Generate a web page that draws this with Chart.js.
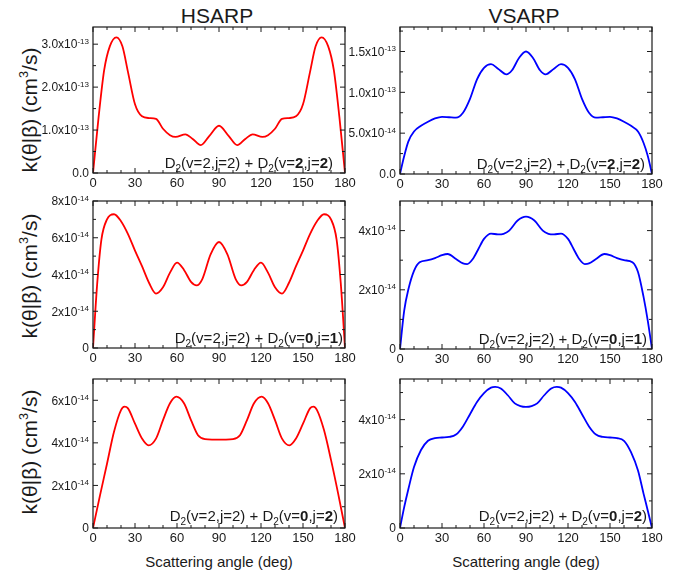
<!DOCTYPE html>
<html>
<head>
<meta charset="utf-8">
<script src="https://cdn.jsdelivr.net/npm/chart.js@4.4.0/dist/chart.umd.min.js"></script>
<style>
  html, body { margin: 0; padding: 0; background: #fff; }
  #fig { position: relative; width: 678px; height: 574px; overflow: hidden;
         font-family: "Liberation Sans", Arial, sans-serif; color: #1a1a1a; }
  #fig canvas { position: absolute; }
  .txt { position: absolute; white-space: nowrap; transform: translate(-50%, -50%); line-height: 1; }
  .rot { transform: translate(-50%, -50%) rotate(-90deg); }
  .txt sup { font-size: 0.6em; vertical-align: 0.7em; line-height: 0; }
</style>
</head>
<body>
<div id="fig">
  <div class="txt" style="left:217px;top:15px;font-size:21px;">HSARP</div>
  <div class="txt" style="left:524px;top:15px;font-size:21px;">VSARP</div>
  <div class="txt rot" style="left:29px;top:110px;font-size:21px;">k(θ|β) (cm<sup>3</sup>/s)</div>
  <div class="txt rot" style="left:29px;top:276px;font-size:21px;">k(θ|β) (cm<sup>3</sup>/s)</div>
  <div class="txt rot" style="left:29px;top:452px;font-size:21px;">k(θ|β) (cm<sup>3</sup>/s)</div>
  <div class="txt" style="left:219px;top:561px;font-size:15px;">Scattering angle (deg)</div>
  <div class="txt" style="left:526px;top:561px;font-size:15px;">Scattering angle (deg)</div>
</div>
<script>
(function () {
  "use strict";

  // -------------------------
  // Data
  // -------------------------
  const xMajor = [0, 30, 60, 90, 120, 150, 180];
  const xMinor = [10, 20, 40, 50, 70, 80, 100, 110, 130, 140, 160, 170];

  // HSARP, D2(v=2,j=2)+D2(v=2,j=2)   (units 1e-13)
  const hsarp22Angles = [0, 4, 8, 12, 16.7, 21, 25, 30, 35, 40, 45, 50, 55, 59, 66, 71, 77, 83, 90,
    97, 103, 109, 114, 121, 125, 130, 135, 140, 145, 150, 155, 159, 163.3, 168, 172, 176, 180];
  const hsarp22Values = [0, 1.3, 2.4, 2.95, 3.16, 2.95, 2.35, 1.6, 1.32, 1.28, 1.26, 1.03, 0.88, 0.84, 0.90, 0.80, 0.65, 0.86, 1.10,
    0.86, 0.65, 0.80, 0.90, 0.84, 0.88, 1.03, 1.26, 1.28, 1.32, 1.6, 2.35, 2.95, 3.16, 2.95, 2.4, 1.3, 0];

  // VSARP, D2(v=2,j=2)+D2(v=2,j=2)   (units 1e-13)
  const vsarp22Angles = [0, 3, 6, 10, 15, 20, 25, 30, 35, 40, 45, 50, 55, 60, 65, 70, 76, 80, 85, 90,
    95, 100, 104, 110, 115, 120, 125, 130, 135, 140, 145, 150, 155, 160, 165, 170, 174, 177, 180];
  const vsarp22Values = [0, 0.22, 0.40, 0.52, 0.59, 0.64, 0.68, 0.70, 0.695, 0.69, 0.75, 0.92, 1.16, 1.30, 1.345, 1.29, 1.22, 1.27, 1.42, 1.50,
    1.42, 1.27, 1.22, 1.29, 1.345, 1.30, 1.16, 0.92, 0.75, 0.69, 0.695, 0.70, 0.68, 0.64, 0.59, 0.52, 0.38, 0.22, 0];

  // HSARP, D2(v=2,j=2)+D2(v=0,j=1)   (units 1e-14)
  const hsarp01Angles = [0, 3, 6, 10, 15, 20, 25, 30, 35, 40, 45, 50, 55, 60, 65, 70, 74, 78, 84, 90,
    96, 102, 106, 110, 115, 120, 125, 130, 135, 140, 145, 150, 155, 160, 165, 170, 174, 177, 180];
  const hsarp01Values = [0, 3.5, 5.9, 7.0, 7.28, 6.9, 6.2, 5.3, 4.45, 3.55, 2.96, 3.3, 4.1, 4.65, 4.25, 3.6, 3.41, 3.74, 5.1, 5.77,
    5.1, 3.74, 3.41, 3.6, 4.25, 4.65, 4.1, 3.3, 2.96, 3.55, 4.45, 5.3, 6.2, 6.9, 7.28, 7.0, 5.9, 3.5, 0];

  // VSARP, D2(v=2,j=2)+D2(v=0,j=1)   (units 1e-14)
  const vsarp01Angles = [0, 3, 6, 10, 14, 20, 25, 30, 34, 40, 45, 48, 52, 56, 60, 65, 70, 74, 78, 84, 90,
    96, 102, 106, 110, 115, 120, 124, 128, 132, 135, 140, 146, 150, 155, 160, 166, 170, 174, 177, 180];
  const vsarp01Values = [0, 1.3, 2.02, 2.64, 2.93, 3.0, 3.07, 3.17, 3.21, 3.04, 2.89, 2.87, 3.04, 3.38, 3.72, 3.9, 3.87, 3.89, 4.0, 4.34, 4.47,
    4.34, 4.0, 3.89, 3.87, 3.9, 3.72, 3.38, 3.04, 2.87, 2.89, 3.04, 3.21, 3.17, 3.07, 3.0, 2.93, 2.6, 1.75, 0.95, 0];

  // HSARP, D2(v=2,j=2)+D2(v=0,j=2)   (units 1e-14)
  const hsarp02Angles = [0, 5, 10, 15, 20, 22.5, 25, 30, 35, 39.7, 45, 50, 55, 59.5, 65, 70, 75, 80, 85, 90,
    95, 100, 105, 110, 115, 120.5, 125, 130, 135, 140.3, 145, 150, 155, 157.5, 160, 165, 170, 175, 180];
  const hsarp02Values = [0, 1.53, 3.02, 4.52, 5.54, 5.70, 5.62, 4.9, 4.2, 3.88, 4.2, 5.07, 5.86, 6.17, 5.86, 5.07, 4.36, 4.17, 4.15, 4.15,
    4.15, 4.17, 4.36, 5.07, 5.86, 6.17, 5.86, 5.07, 4.2, 3.88, 4.2, 4.9, 5.62, 5.70, 5.54, 4.6, 3.2, 1.65, 0];

  // VSARP, D2(v=2,j=2)+D2(v=0,j=2)   (units 1e-14)
  const vsarp02Angles = [0, 3, 6, 10, 15, 20, 25, 30, 35, 40, 45, 50, 55, 60, 65, 68, 72, 77, 82, 86, 90,
    94, 98, 103, 108, 112, 115, 120, 125, 130, 135, 140, 145, 150, 155, 160, 165, 170, 174, 177, 180];
  const vsarp02Values = [0, 0.77, 1.44, 2.25, 2.88, 3.22, 3.32, 3.34, 3.36, 3.45, 3.75, 4.2, 4.65, 4.98, 5.18, 5.21, 5.15, 4.9, 4.6, 4.5, 4.47,
    4.5, 4.6, 4.9, 5.15, 5.21, 5.18, 4.98, 4.65, 4.2, 3.75, 3.45, 3.36, 3.34, 3.32, 3.22, 2.8, 2.12, 1.26, 0.64, 0];

  // y tick values / labels per panel ("^" marks the exponent)
  const yTicks22H = [0, 1, 2, 3];
  const yLabels22H = ["0.0", "1.0x10^-13", "2.0x10^-13", "3.0x10^-13"];
  const yTicks22V = [0, 0.5, 1.0, 1.5];
  const yLabels22V = ["0.0", "5.0x10^-14", "1.0x10^-13", "1.5x10^-13"];
  const yTicks01H = [0, 2, 4, 6, 8];
  const yLabels01H = ["0", "2x10^-14", "4x10^-14", "6x10^-14", "8x10^-14"];
  const yTicks01V = [0, 2, 4];
  const yLabels01V = ["0", "2x10^-14", "4x10^-14"];
  const yTicks02H = [0, 2, 4, 6];
  const yLabels02H = ["0", "2x10^-14", "4x10^-14", "6x10^-14"];
  const yTicks02V = [0, 2, 4];
  const yLabels02V = ["0", "2x10^-14", "4x10^-14"];

  // final-state (v, j) of the second D2 in each row
  const finalStates = [[2, 2], [0, 1], [0, 2]];

  // -------------------------
  // Panel layout
  // -------------------------
  const panels = [
    { left: 93, right: 345, top: 27, bottom: 173, ymax: 3.4, angles: hsarp22Angles, values: hsarp22Values,
      color: "#ff0000", ticks: yTicks22H, labels: yLabels22H, minor: [0.5, 1.5, 2.5], fs: finalStates[0], noteInset: 12, noteLift: 5 },
    { left: 400, right: 652, top: 27, bottom: 174, ymax: 1.8, angles: vsarp22Angles, values: vsarp22Values,
      color: "#0000ff", ticks: yTicks22V, labels: yLabels22V, minor: [0.25, 0.75, 1.25, 1.75], fs: finalStates[0], noteInset: 7, noteLift: 5 },
    { left: 93, right: 345, top: 201, bottom: 348, ymax: 8, angles: hsarp01Angles, values: hsarp01Values,
      color: "#ff0000", ticks: yTicks01H, labels: yLabels01H, minor: [1, 3, 5, 7], fs: finalStates[1], noteInset: 2, noteLift: 5 },
    { left: 400, right: 652, top: 201, bottom: 349, ymax: 5, angles: vsarp01Angles, values: vsarp01Values,
      color: "#0000ff", ticks: yTicks01V, labels: yLabels01V, minor: [1, 3], fs: finalStates[1], noteInset: 5, noteLift: 5 },
    { left: 93, right: 345, top: 379, bottom: 528, ymax: 7, angles: hsarp02Angles, values: hsarp02Values,
      color: "#ff0000", ticks: yTicks02H, labels: yLabels02H, minor: [1, 3, 5], fs: finalStates[2], noteInset: 7, noteLift: 7 },
    { left: 400, right: 652, top: 379, bottom: 528, ymax: 5.5, angles: vsarp02Angles, values: vsarp02Values,
      color: "#0000ff", ticks: yTicks02V, labels: yLabels02V, minor: [1, 3, 5], fs: finalStates[2], noteInset: 5, noteLift: 7 }
  ];

  const FONT = '"Liberation Sans", Arial, sans-serif';
  const INK = "#1a1a1a";

  function seg(ctx, x1, y1, x2, y2) {
    ctx.beginPath();
    ctx.moveTo(x1, y1);
    ctx.lineTo(x2, y2);
    ctx.stroke();
  }

  function framePlugin(p) {
    return {
      id: "frame",
      afterDraw(chart) {
        const ctx = chart.ctx;
        const xs = chart.scales.x, ys = chart.scales.y, a = chart.chartArea;
        ctx.save();
        ctx.strokeStyle = INK;
        ctx.lineWidth = 1.2;
        ctx.strokeRect(a.left, a.top, a.right - a.left, a.bottom - a.top);

        // inward ticks on all four sides
        ctx.lineWidth = 1;
        xMajor.forEach((v) => {
          const px = xs.getPixelForValue(v);
          seg(ctx, px, a.bottom, px, a.bottom - 5);
          seg(ctx, px, a.top, px, a.top + 5);
        });
        xMinor.forEach((v) => {
          const px = xs.getPixelForValue(v);
          seg(ctx, px, a.bottom, px, a.bottom - 3);
          seg(ctx, px, a.top, px, a.top + 3);
        });
        p.ticks.forEach((v) => {
          const py = ys.getPixelForValue(v);
          seg(ctx, a.left, py, a.left + 5, py);
          seg(ctx, a.right, py, a.right - 5, py);
        });
        p.minor.forEach((v) => {
          const py = ys.getPixelForValue(v);
          seg(ctx, a.left, py, a.left + 3, py);
          seg(ctx, a.right, py, a.right - 3, py);
        });

        // x tick labels
        ctx.fillStyle = INK;
        ctx.font = "13px " + FONT;
        ctx.textAlign = "center";
        ctx.textBaseline = "top";
        xMajor.forEach((v) => {
          ctx.fillText(String(v), xs.getPixelForValue(v), a.bottom + 4);
        });

        // y tick labels with superscript exponent
        ctx.textBaseline = "alphabetic";
        ctx.textAlign = "left";
        p.ticks.forEach((v, i) => {
          const parts = p.labels[i].split("^");
          const py = ys.getPixelForValue(v);
          const xEnd = a.left - 4;
          ctx.font = "8px " + FONT;
          const ew = parts[1] ? ctx.measureText(parts[1]).width : 0;
          ctx.font = "12px " + FONT;
          const mw = ctx.measureText(parts[0]).width;
          ctx.fillText(parts[0], xEnd - ew - mw, py + 4.3);
          if (parts[1]) {
            ctx.font = "8px " + FONT;
            ctx.fillText(parts[1], xEnd - ew, py - 0.5);
          }
        });

        // annotation D2(v=2,j=2) + D2(v=..,j=..)
        const runs = [
          ["D", "n"], ["2", "s"], ["(v=2,j=2) + D", "n"], ["2", "s"], ["(v=", "n"],
          [String(p.fs[0]), "b"], [",j=", "n"], [String(p.fs[1]), "b"], [")", "n"]
        ];
        const fontFor = (k) => (k === "b" ? "bold 15px " : k === "s" ? "10px " : "15px ") + FONT;
        let total = 0;
        runs.forEach((r) => { ctx.font = fontFor(r[1]); total += ctx.measureText(r[0]).width; });
        let x = a.right - p.noteInset - total;
        const base = a.bottom - p.noteLift;
        runs.forEach((r) => {
          ctx.font = fontFor(r[1]);
          ctx.fillText(r[0], x, r[1] === "s" ? base + 4 : base);
          x += ctx.measureText(r[0]).width;
        });
        ctx.restore();
      }
    };
  }

  function makePanel(p) {
    const fig = document.getElementById("fig");
    const padL = 80, padT = 10, padR = 14, padB = 26;
    const w = p.right - p.left + padL + padR;
    const h = p.bottom - p.top + padT + padB;
    const cv = document.createElement("canvas");
    cv.width = w;
    cv.height = h;
    cv.style.width = w + "px";
    cv.style.height = h + "px";
    cv.style.left = (p.left - padL) + "px";
    cv.style.top = (p.top - padT) + "px";
    fig.appendChild(cv);

    const pts = p.angles.map((a, i) => ({ x: a, y: p.values[i] }));
    return new Chart(cv.getContext("2d"), {
      type: "line",
      data: {
        datasets: [{
          data: pts,
          borderColor: p.color,
          borderWidth: 1.8,
          pointRadius: 0,
          fill: false,
          cubicInterpolationMode: "monotone"
        }]
      },
      options: {
        responsive: false,
        animation: false,
        devicePixelRatio: 1,
        layout: { padding: { left: padL, top: padT, right: padR, bottom: padB } },
        plugins: { legend: { display: false }, tooltip: { enabled: false } },
        scales: {
          x: { type: "linear", min: 0, max: 180, display: false },
          y: { type: "linear", min: 0, max: p.ymax, display: false }
        }
      },
      plugins: [framePlugin(p)]
    });
  }

  panels.forEach((p) => {
    try {
      makePanel(p);
    } catch (e) {
      console.error("panel error", e);
    }
  });
})();
</script>
</body>
</html>
